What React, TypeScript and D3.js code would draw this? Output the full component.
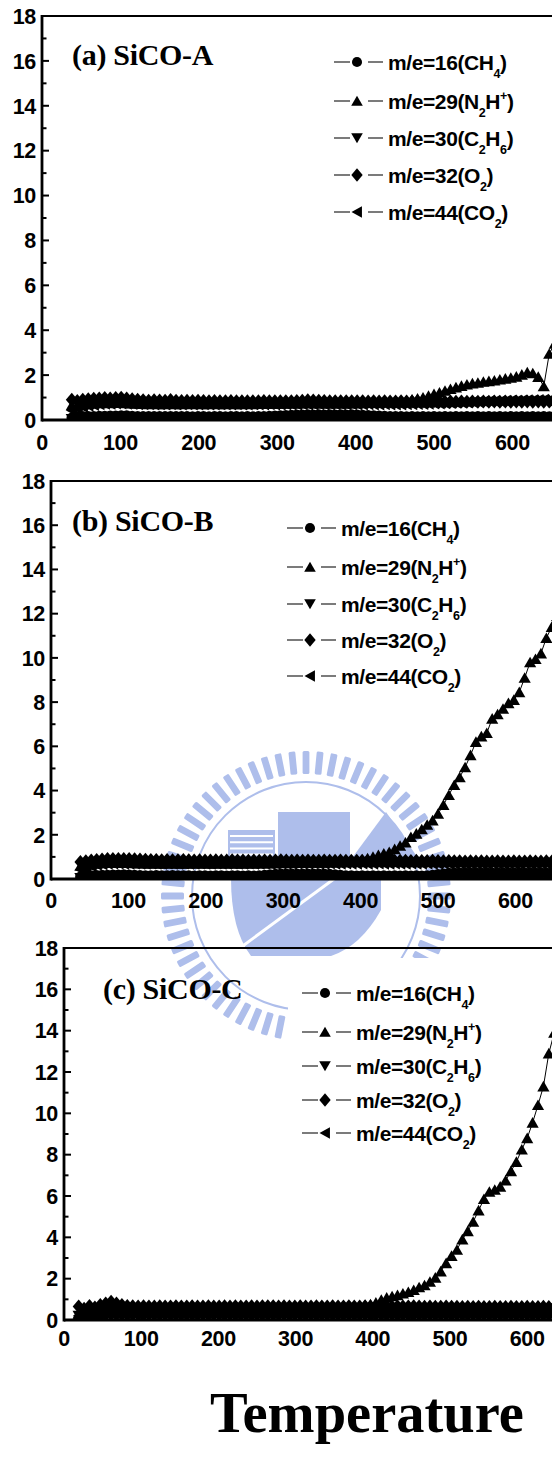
import React from "react";
import * as d3 from "d3";

const W = 552;
const H = 1477;

// Temperature grid: readings every 7 °C from the first sampled temperature
const TEMP_STEP = 7;
const START_A = 38;
const START_B = 38;
const START_C = 19;

// ---------- (a) SiCO-A ----------
const CH4_A = [
  0.10,0.14,0.16,0.17,0.17,0.18,0.18,0.19,0.19,0.20,
  0.20,0.18,0.17,0.16,0.16,0.17,0.16,0.16,0.17,0.16,
  0.16,0.16,0.15,0.16,0.16,0.15,0.16,0.16,0.15,0.16,
  0.16,0.15,0.16,0.15,0.16,0.17,0.18,0.19,0.20,0.21,
  0.22,0.23,0.23,0.24,0.23,0.24,0.23,0.24,0.23,0.24,
  0.23,0.24,0.23,0.22,0.21,0.20,0.19,0.18,0.17,0.16,
  0.16,0.15,0.16,0.15,0.16,0.15,0.16,0.15,0.16,0.15,
  0.16,0.15,0.16,0.15,0.16,0.15,0.16,0.15,0.16,0.15,
  0.16,0.15,0.16,0.15,0.16,0.15,0.16,0.15,0.16,
];
const N2H_A = [
  0.66,0.64,0.68,0.71,0.73,0.75,0.76,0.75,0.76,0.77,
  0.75,0.73,0.72,0.71,0.70,0.71,0.70,0.70,0.71,0.70,
  0.70,0.71,0.70,0.71,0.70,0.70,0.71,0.70,0.70,0.71,
  0.70,0.70,0.71,0.70,0.71,0.71,0.72,0.71,0.72,0.72,
  0.73,0.73,0.74,0.75,0.75,0.74,0.74,0.73,0.74,0.73,
  0.74,0.74,0.75,0.75,0.76,0.77,0.78,0.79,0.80,0.81,
  0.84,0.87,0.91,0.95,1.00,1.08,1.15,1.22,1.30,1.38,
  1.45,1.52,1.58,1.63,1.66,1.70,1.73,1.76,1.80,1.84,
  1.88,1.93,2.02,2.12,2.08,1.92,1.50,2.95,3.40,
];
const C2H6_A = [
  0.05,0.07,0.08,0.09,0.09,0.10,0.10,0.10,0.10,0.11,
  0.10,0.09,0.09,0.08,0.08,0.09,0.08,0.08,0.09,0.08,
  0.08,0.09,0.08,0.08,0.09,0.08,0.09,0.08,0.08,0.09,
  0.08,0.09,0.08,0.08,0.09,0.08,0.09,0.08,0.08,0.09,
  0.08,0.09,0.08,0.08,0.09,0.08,0.09,0.08,0.08,0.09,
  0.08,0.09,0.08,0.08,0.09,0.08,0.09,0.08,0.08,0.09,
  0.08,0.09,0.08,0.08,0.09,0.08,0.09,0.08,0.08,0.09,
  0.08,0.09,0.08,0.08,0.09,0.08,0.09,0.08,0.08,0.09,
  0.08,0.09,0.08,0.08,0.09,0.08,0.09,0.08,0.08,
];
const O2_A = [
  0.90,0.85,0.90,0.93,0.95,0.96,0.98,0.96,0.98,0.99,
  0.96,0.93,0.90,0.88,0.86,0.88,0.87,0.86,0.89,0.86,
  0.85,0.86,0.85,0.86,0.85,0.84,0.85,0.84,0.84,0.85,
  0.84,0.83,0.84,0.83,0.84,0.85,0.84,0.83,0.84,0.83,
  0.84,0.85,0.86,0.88,0.87,0.86,0.85,0.84,0.84,0.83,
  0.84,0.83,0.84,0.83,0.82,0.83,0.82,0.83,0.82,0.82,
  0.83,0.82,0.82,0.83,0.82,0.82,0.83,0.82,0.81,0.82,
  0.81,0.82,0.81,0.82,0.81,0.82,0.81,0.82,0.81,0.82,
  0.81,0.82,0.81,0.82,0.81,0.82,0.81,0.82,0.81,
];
const CO2_A = [
  0.42,0.50,0.58,0.64,0.67,0.70,0.72,0.72,0.73,0.74,
  0.72,0.71,0.70,0.70,0.70,0.69,0.70,0.69,0.70,0.69,
  0.69,0.70,0.69,0.69,0.70,0.69,0.69,0.70,0.69,0.69,
  0.70,0.69,0.69,0.70,0.69,0.69,0.70,0.69,0.69,0.70,
  0.69,0.69,0.70,0.69,0.69,0.70,0.69,0.69,0.70,0.69,
  0.69,0.70,0.69,0.69,0.70,0.69,0.69,0.70,0.69,0.69,
  0.69,0.70,0.70,0.71,0.71,0.72,0.73,0.74,0.75,0.76,
  0.77,0.78,0.79,0.80,0.81,0.82,0.83,0.84,0.84,0.85,
  0.86,0.86,0.87,0.88,0.88,0.89,0.90,0.90,0.91,
];

// ---------- (b) SiCO-B ----------
const CH4_B = [
  0.10,0.14,0.16,0.17,0.18,0.18,0.19,0.19,0.20,0.19,
  0.18,0.17,0.16,0.16,0.17,0.16,0.16,0.17,0.16,0.16,
  0.16,0.15,0.16,0.16,0.15,0.16,0.16,0.15,0.16,0.16,
  0.15,0.16,0.15,0.16,0.18,0.20,0.22,0.23,0.24,0.23,
  0.24,0.23,0.24,0.23,0.24,0.23,0.22,0.20,0.18,0.16,
  0.16,0.15,0.16,0.15,0.16,0.15,0.16,0.15,0.16,0.15,
  0.16,0.15,0.16,0.15,0.16,0.18,0.21,0.24,0.27,0.28,
  0.28,0.29,0.28,0.29,0.28,0.29,0.28,0.29,0.28,0.29,
  0.28,0.29,0.28,0.29,0.28,0.29,0.28,0.29,0.28,
];
const N2H_B = [
  0.60,0.63,0.66,0.69,0.71,0.72,0.73,0.72,0.73,0.72,
  0.71,0.70,0.70,0.69,0.70,0.69,0.69,0.70,0.69,0.69,
  0.69,0.70,0.69,0.70,0.69,0.69,0.70,0.69,0.70,0.69,
  0.69,0.70,0.69,0.70,0.70,0.70,0.71,0.71,0.72,0.71,
  0.72,0.72,0.73,0.73,0.74,0.74,0.75,0.75,0.76,0.76,
  0.78,0.82,0.87,0.93,1.00,1.08,1.15,1.22,1.35,1.50,
  1.65,1.90,2.05,2.25,2.45,2.65,2.95,3.35,3.80,4.25,
  4.60,5.05,5.60,6.20,6.45,6.60,7.25,7.45,7.70,7.95,
  8.10,8.45,9.10,9.80,9.95,10.20,10.90,11.40,11.90,
];
const C2H6_B = [
  0.05,0.07,0.08,0.09,0.10,0.10,0.10,0.11,0.10,0.10,
  0.09,0.09,0.08,0.09,0.08,0.08,0.09,0.08,0.08,0.09,
  0.08,0.09,0.08,0.08,0.09,0.08,0.09,0.08,0.08,0.09,
  0.08,0.09,0.08,0.08,0.09,0.08,0.09,0.08,0.08,0.09,
  0.08,0.09,0.08,0.08,0.09,0.08,0.09,0.08,0.08,0.09,
  0.08,0.09,0.08,0.08,0.09,0.08,0.09,0.08,0.08,0.09,
  0.08,0.09,0.08,0.08,0.09,0.08,0.09,0.08,0.08,0.09,
  0.08,0.09,0.08,0.08,0.09,0.08,0.09,0.08,0.08,0.09,
  0.08,0.09,0.08,0.08,0.09,0.08,0.09,0.08,0.08,
];
const O2_B = [
  0.77,0.80,0.84,0.86,0.88,0.90,0.91,0.90,0.91,0.90,
  0.89,0.88,0.87,0.86,0.86,0.85,0.86,0.85,0.85,0.86,
  0.85,0.84,0.85,0.84,0.84,0.85,0.84,0.84,0.85,0.84,
  0.84,0.83,0.84,0.83,0.84,0.83,0.84,0.85,0.84,0.83,
  0.84,0.83,0.84,0.83,0.83,0.84,0.83,0.83,0.84,0.83,
  0.83,0.82,0.83,0.82,0.82,0.83,0.82,0.82,0.83,0.82,
  0.82,0.81,0.82,0.81,0.81,0.82,0.81,0.80,0.81,0.80,
  0.80,0.79,0.80,0.79,0.80,0.79,0.79,0.80,0.79,0.79,
  0.80,0.79,0.79,0.80,0.79,0.79,0.80,0.79,0.79,
];
const CO2_B = [
  0.42,0.50,0.58,0.64,0.67,0.69,0.70,0.70,0.69,0.69,
  0.70,0.69,0.69,0.70,0.69,0.69,0.70,0.69,0.69,0.70,
  0.69,0.69,0.70,0.69,0.69,0.70,0.69,0.69,0.70,0.69,
  0.69,0.70,0.69,0.69,0.70,0.69,0.69,0.70,0.69,0.69,
  0.70,0.69,0.69,0.70,0.69,0.69,0.70,0.69,0.69,0.70,
  0.69,0.69,0.70,0.69,0.69,0.70,0.69,0.69,0.70,0.69,
  0.69,0.70,0.69,0.69,0.70,0.69,0.69,0.70,0.69,0.69,
  0.70,0.69,0.69,0.70,0.69,0.69,0.70,0.69,0.69,0.70,
  0.69,0.69,0.70,0.69,0.69,0.70,0.69,0.69,0.70,
];

// ---------- (c) SiCO-C ----------
const CH4_C = [
  0.10,0.15,0.20,0.25,0.28,0.30,0.32,0.31,0.30,0.30,
  0.30,0.31,0.30,0.30,0.31,0.30,0.30,0.31,0.30,0.30,
  0.31,0.30,0.30,0.31,0.30,0.30,0.31,0.30,0.30,0.31,
  0.30,0.30,0.31,0.30,0.30,0.31,0.30,0.30,0.31,0.30,
  0.30,0.31,0.30,0.30,0.31,0.30,0.30,0.31,0.30,0.30,
  0.31,0.30,0.30,0.31,0.30,0.30,0.31,0.30,0.30,0.31,
  0.30,0.30,0.31,0.30,0.30,0.31,0.30,0.30,0.31,0.30,
  0.30,0.31,0.30,0.30,0.31,0.30,0.30,0.31,0.30,0.30,
  0.31,0.30,0.30,0.31,0.30,0.30,0.31,0.30,0.30,0.31,
  0.30,0.30,0.31,0.30,
];
const N2H_C = [
  0.30,0.35,0.40,0.48,0.55,0.60,0.66,0.62,0.60,0.58,
  0.57,0.56,0.56,0.55,0.56,0.55,0.55,0.56,0.55,0.55,
  0.55,0.54,0.55,0.54,0.55,0.55,0.54,0.55,0.55,0.54,
  0.55,0.56,0.55,0.56,0.55,0.56,0.56,0.55,0.56,0.56,
  0.57,0.56,0.57,0.57,0.58,0.58,0.59,0.59,0.60,0.61,
  0.62,0.64,0.67,0.71,0.76,0.84,0.98,1.08,1.15,1.20,
  1.28,1.35,1.45,1.58,1.68,1.85,2.05,2.35,2.75,3.10,
  3.40,3.90,4.30,4.75,5.30,5.85,6.20,6.30,6.45,6.75,
  7.20,7.65,8.25,8.80,9.55,10.40,11.30,12.90,13.90,14.60,
  15.20,15.80,16.30,16.80,
];
const C2H6_C = [
  0.20,0.08,0.12,0.10,0.12,0.13,0.12,0.13,0.12,0.12,
  0.13,0.12,0.12,0.13,0.12,0.12,0.13,0.12,0.12,0.13,
  0.12,0.12,0.13,0.12,0.12,0.13,0.12,0.12,0.13,0.12,
  0.12,0.13,0.12,0.12,0.13,0.12,0.12,0.13,0.12,0.12,
  0.13,0.12,0.12,0.13,0.12,0.12,0.13,0.12,0.12,0.13,
  0.12,0.12,0.13,0.12,0.12,0.13,0.12,0.12,0.13,0.12,
  0.12,0.13,0.12,0.12,0.13,0.12,0.12,0.13,0.12,0.12,
  0.13,0.12,0.12,0.13,0.12,0.12,0.13,0.12,0.12,0.13,
  0.12,0.12,0.13,0.12,0.12,0.13,0.12,0.12,0.13,0.12,
  0.12,0.13,0.12,0.12,
];
const O2_C = [
  0.65,0.55,0.68,0.60,0.72,0.80,0.88,0.80,0.72,0.68,
  0.66,0.65,0.66,0.65,0.65,0.66,0.65,0.65,0.66,0.65,
  0.65,0.66,0.65,0.65,0.66,0.65,0.65,0.66,0.65,0.66,
  0.65,0.65,0.66,0.65,0.66,0.67,0.66,0.65,0.66,0.65,
  0.65,0.66,0.65,0.65,0.66,0.65,0.65,0.66,0.65,0.65,
  0.66,0.65,0.65,0.66,0.65,0.65,0.66,0.65,0.65,0.66,
  0.65,0.65,0.66,0.65,0.64,0.65,0.64,0.64,0.65,0.64,
  0.64,0.63,0.64,0.63,0.64,0.63,0.63,0.64,0.63,0.63,
  0.64,0.63,0.63,0.64,0.63,0.63,0.64,0.63,0.63,0.64,
  0.63,0.64,0.63,0.64,
];
const CO2_C = [
  0.20,0.40,0.30,0.42,0.45,0.48,0.50,0.48,0.47,0.46,
  0.45,0.46,0.45,0.45,0.46,0.45,0.45,0.46,0.45,0.45,
  0.46,0.45,0.45,0.46,0.45,0.45,0.46,0.45,0.45,0.46,
  0.45,0.45,0.46,0.45,0.45,0.46,0.45,0.45,0.46,0.45,
  0.45,0.46,0.45,0.45,0.46,0.45,0.45,0.46,0.45,0.45,
  0.46,0.45,0.45,0.46,0.45,0.45,0.46,0.45,0.45,0.46,
  0.45,0.45,0.46,0.45,0.45,0.46,0.45,0.45,0.46,0.45,
  0.45,0.46,0.45,0.45,0.46,0.45,0.45,0.46,0.45,0.45,
  0.46,0.45,0.45,0.46,0.45,0.45,0.46,0.45,0.45,0.46,
  0.45,0.45,0.46,0.45,
];

// Series order, symbols and legend text (sub/superscripts marked)
const SYMBOLS = ["circle", "up", "down", "diamond", "left"];
const LEGEND_TEXT: [string, string][][] = [
  [["m/e=16(CH", ""], ["4", "sub"], [")", ""]],
  [["m/e=29(N", ""], ["2", "sub"], ["H", ""], ["+", "sup"], [")", ""]],
  [["m/e=30(C", ""], ["2", "sub"], ["H", ""], ["6", "sub"], [")", ""]],
  [["m/e=32(O", ""], ["2", "sub"], [")", ""]],
  [["m/e=44(CO", ""], ["2", "sub"], [")", ""]],
];

const Y_TICKS = d3.range(0, 19, 2);
const X_TICKS = d3.range(0, 700, 100);

const SANS = "'Liberation Sans', Arial, Helvetica, sans-serif";
const SERIF = "'Liberation Serif', 'Times New Roman', Times, serif";

// Marker outlines centred on the data point
function symbolPath(kind: string, k = 1): string {
  const s = k;
  switch (kind) {
    case "circle": {
      const r = 5.3 * s;
      return `M${r},0A${r},${r} 0 1,1 ${-r},0A${r},${r} 0 1,1 ${r},0Z`;
    }
    case "up":
      return `M0,${-5.6 * s}L${6.1 * s},${5 * s}L${-6.1 * s},${5 * s}Z`;
    case "down":
      return `M0,${5.6 * s}L${6.1 * s},${-5 * s}L${-6.1 * s},${-5 * s}Z`;
    case "diamond":
      return `M0,${-7 * s}L${6 * s},0L0,${7 * s}L${-6 * s},0Z`;
    case "left":
      return `M${-5.8 * s},0L${5.2 * s},${-6 * s}L${5.2 * s},${6 * s}Z`;
    default:
      return "";
  }
}

type PanelCfg = {
  id: string;
  title: string;
  start: number;
  data: number[][];
  left: number;
  top: number;
  bottom: number;
  degPx: number;
  xLabelY: number;
  titleX: number;
  titleY: number;
  legendX: number;
  legendRows: number[];
  legendBox?: { x: number; y: number; h: number };
};

const PANELS: PanelCfg[] = [
  {
    id: "a",
    title: "(a) SiCO-A",
    start: START_A,
    data: [CH4_A, N2H_A, C2H6_A, O2_A, CO2_A],
    left: 42,
    top: 16,
    bottom: 420,
    degPx: 0.784,
    xLabelY: 442,
    titleX: 72,
    titleY: 65,
    legendX: 357,
    legendRows: [62, 101, 138, 175, 212],
  },
  {
    id: "b",
    title: "(b) SiCO-B",
    start: START_B,
    data: [CH4_B, N2H_B, C2H6_B, O2_B, CO2_B],
    left: 51,
    top: 481,
    bottom: 879,
    degPx: 0.774,
    xLabelY: 900,
    titleX: 72,
    titleY: 531,
    legendX: 310,
    legendRows: [528, 567, 604, 640, 676],
  },
  {
    id: "c",
    title: "(c) SiCO-C",
    start: START_C,
    data: [CH4_C, N2H_C, C2H6_C, O2_C, CO2_C],
    left: 64,
    top: 948,
    bottom: 1320,
    degPx: 0.772,
    xLabelY: 1338,
    titleX: 103,
    titleY: 999,
    legendX: 325,
    legendRows: [993, 1032, 1066, 1100, 1133],
    legendBox: { x: 288, y: 958, h: 200 },
  },
];

function LegendLabel({ x, y, parts }: { x: number; y: number; parts: [string, string][] }) {
  let shift = 0;
  return (
    <text x={x} y={y} fontFamily={SANS} fontWeight="bold" fontSize={21} letterSpacing={-0.4} fill="#000">
      {parts.map(([t, kind], i) => {
        const target = kind === "sub" ? 8 : kind === "sup" ? -9 : 0;
        const dy = target - shift;
        shift = target;
        return (
          <tspan key={i} dy={dy} fontSize={kind ? 12.5 : 21}>
            {t}
          </tspan>
        );
      })}
    </text>
  );
}

function Panel({ cfg }: { cfg: PanelCfg }) {
  const x = d3.scaleLinear().domain([0, 600]).range([cfg.left, cfg.left + 600 * cfg.degPx]);
  const y = d3.scaleLinear().domain([0, 18]).range([cfg.bottom, cfg.top]);
  const clipId = `plot-${cfg.id}`;

  const yMinor = d3.range(0, 19, 1);
  const xMinor = d3.range(0, 701, 50);

  return (
    <g>
      <defs>
        <clipPath id={clipId}>
          <rect x={cfg.left} y={cfg.top} width={W - cfg.left} height={cfg.bottom - cfg.top} />
        </clipPath>
      </defs>

      {cfg.legendBox && (
        <rect x={cfg.legendBox.x} y={cfg.legendBox.y} width={W - cfg.legendBox.x} height={cfg.legendBox.h} fill="#fff" />
      )}

      <g clipPath={`url(#${clipId})`}>
        {cfg.data.map((vals, si) => {
          const temps = d3.range(vals.length).map((i) => cfg.start + i * TEMP_STEP);
          const line = d3
            .line<number>()
            .x((_, i) => x(temps[i]))
            .y((d) => y(d));
          const shape = symbolPath(SYMBOLS[si]);
          return (
            <g key={si}>
              <path d={line(vals) || ""} fill="none" stroke="#000" strokeWidth={1} />
              {vals.map((v, i) => (
                <path key={i} d={shape} transform={`translate(${x(temps[i])},${y(v)})`} fill="#000" />
              ))}
            </g>
          );
        })}
      </g>

      {/* frame */}
      <line x1={cfg.left} x2={W} y1={cfg.top} y2={cfg.top} stroke="#000" strokeWidth={2.2} />
      <line x1={cfg.left} x2={W} y1={cfg.bottom} y2={cfg.bottom} stroke="#000" strokeWidth={3} />
      <line x1={cfg.left} x2={cfg.left} y1={cfg.top - 1} y2={cfg.bottom + 1.5} stroke="#000" strokeWidth={2.8} />

      {/* ticks */}
      {yMinor.map((v) => (
        <line key={`yt${v}`} x1={cfg.left} x2={cfg.left + (v % 2 === 0 ? 7 : 4.5)} y1={y(v)} y2={y(v)} stroke="#000" strokeWidth={2} />
      ))}
      {xMinor.map((t) => (
        <line key={`xt${t}`} x1={x(t)} x2={x(t)} y1={cfg.bottom} y2={cfg.bottom - (t % 100 === 0 ? 7 : 4.5)} stroke="#000" strokeWidth={2} />
      ))}

      {/* tick labels */}
      {Y_TICKS.map((v) => (
        <text key={`yl${v}`} x={cfg.left - 6} y={y(v)} dy="0.36em" textAnchor="end" fontFamily={SANS} fontWeight="bold" fontSize={21.5} letterSpacing={-0.3}>
          {v}
        </text>
      ))}
      {X_TICKS.map((t) => (
        <text key={`xl${t}`} x={x(t)} y={cfg.xLabelY} dy="0.36em" textAnchor="middle" fontFamily={SANS} fontWeight="bold" fontSize={21.5} letterSpacing={-0.3}>
          {t}
        </text>
      ))}

      {/* panel title */}
      <text x={cfg.titleX} y={cfg.titleY} fontFamily={SERIF} fontWeight="bold" fontSize={30} letterSpacing={-0.3}>
        {cfg.title}
      </text>

      {/* legend */}
      {cfg.legendRows.map((ry, i) => (
        <g key={`lg${i}`}>
          <line x1={cfg.legendX - 23} x2={cfg.legendX - 7} y1={ry} y2={ry} stroke="#333" strokeWidth={1.3} />
          <line x1={cfg.legendX + 11} x2={cfg.legendX + 26} y1={ry} y2={ry} stroke="#333" strokeWidth={1.3} />
          <path d={symbolPath(SYMBOLS[i], 0.95)} transform={`translate(${cfg.legendX},${ry})`} fill="#000" />
          <LegendLabel x={cfg.legendX + 31} y={ry + 7.5} parts={LEGEND_TEXT[i]} />
        </g>
      ))}
    </g>
  );
}

// University seal printed faintly behind the middle of the figure
function Seal({ cx, cy }: { cx: number; cy: number }) {
  const color = "#aebeeb";
  const teeth = 64;
  return (
    <g fill={color}>
      {d3.range(teeth).map((i) => (
        <rect
          key={i}
          x={-3.4}
          y={-145}
          width={6.8}
          height={23}
          rx={1.5}
          transform={`translate(${cx},${cy}) rotate(${(360 * i) / teeth})`}
        />
      ))}
      <circle cx={cx} cy={cy} r={114} fill="none" stroke={color} strokeWidth={2} />
      {/* buildings */}
      <rect x={cx - 78} y={cy - 66} width={47} height={28} />
      {d3.range(4).map((i) => (
        <line key={i} x1={cx - 76} x2={cx - 33} y1={cy - 60 + i * 6.2} y2={cy - 60 + i * 6.2} stroke="#fff" strokeWidth={2} />
      ))}
      <rect x={cx - 28} y={cy - 84} width={72} height={46} />
      <path d={`M${cx + 46},${cy - 38}L${cx + 80},${cy - 84}L${cx + 112},${cy - 38}Z`} />
      {/* lower field with a diagonal path */}
      <path
        d={`M${cx - 75},${cy - 18}L${cx + 75},${cy - 18}L${cx + 75},${cy + 14}Q${cx + 55},${cy + 50} ${cx + 25},${cy + 60}L${cx - 55},${cy + 60}Q${cx - 75},${cy + 34} ${cx - 75},${cy - 18}Z`}
      />
      <line x1={cx - 66} y1={cy + 52} x2={cx + 32} y2={cy - 20} stroke="#fff" strokeWidth={3} />
      <text x={cx + 18} y={cy + 82} textAnchor="middle" fontFamily={SERIF} fontWeight="bold" fontSize={22} fill={color}>
        1958
      </text>
    </g>
  );
}

export default function App() {
  return (
    <svg
      width={W}
      height={H}
      viewBox={`0 0 ${W} ${H}`}
      style={{ position: "absolute", left: 0, top: 0, display: "block", background: "#fff" }}
    >
      <rect x={0} y={0} width={W} height={H} fill="#fff" />
      <Seal cx={306} cy={896} />
      {PANELS.map((p) => (
        <Panel key={p.id} cfg={p} />
      ))}
      <text x={210} y={1432} fontFamily={SERIF} fontWeight="bold" fontSize={56.5}>
        Temperature
      </text>
    </svg>
  );
}
